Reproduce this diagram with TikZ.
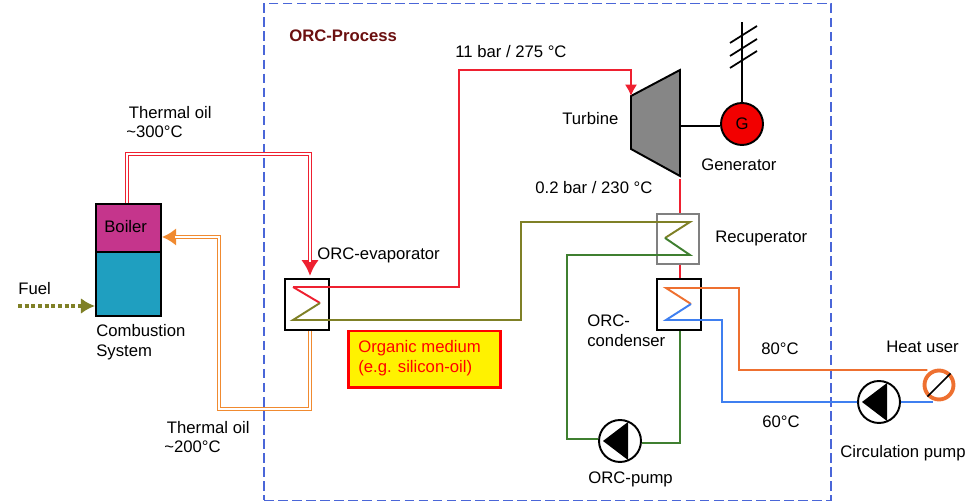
\documentclass[tikz,border=0pt]{standalone}
\usepackage{fontspec}
\setmainfont{Liberation Sans}
\usetikzlibrary{arrows.meta}
\definecolor{oilred}{HTML}{EE2030}
\definecolor{oilorange}{HTML}{F08A30}
\definecolor{hotorange}{HTML}{EE7030}
\definecolor{coldblue}{HTML}{3F7FF0}
\definecolor{olivemed}{HTML}{7F8026}
\definecolor{greenmed}{HTML}{3F7F30}
\definecolor{boxblue}{HTML}{4A66D8}
\definecolor{boilermag}{HTML}{C5358C}
\definecolor{combteal}{HTML}{1F9FC0}
\definecolor{darkred}{HTML}{6B1010}
\begin{document}
\begin{tikzpicture}[x=0.02cm,y=-0.02cm,
    label/.style={anchor=west,inner sep=0pt,align=left,font=\fontsize{9.5}{11.3}\selectfont},
    hxbox/.style={draw,line width=1pt,minimum width=0.88cm,minimum height=1.02cm,inner sep=0pt},
    pumpbox/.style={circle,draw,line width=1.1pt,minimum size=0.84cm,inner sep=0pt},
    redpipe/.style={oilred,line width=1.1pt},
    mediumpipe/.style={line width=1.1pt},
    oilpipe/.style={line width=2.3pt,line join=miter},
    oilcore/.style={white,line width=0.75pt,line join=miter}]
    \useasboundingbox (0,0) rectangle (968,502);
    % Process border
    \node[draw=boxblue,dash pattern=on 5.5pt off 2.5pt,line width=0.8pt,minimum width=11.34cm,minimum height=9.94cm,inner sep=0pt] (process) at (547.5,252) {};
    % Boiler and burner
    \node[draw,line width=1.1pt,fill=combteal,minimum width=1.3cm,minimum height=1.28cm,inner sep=0pt] (comb) at (128.5,284) {};
    \node[draw,line width=1.1pt,fill=boilermag,minimum width=1.3cm,minimum height=0.96cm,inner sep=0pt] (boiler) at (128.5,228) {};
    % Heat exchangers
    \node[hxbox] (evap) at (307,304.5) {};
    \node[hxbox,draw=gray,line width=0.8pt,minimum width=0.84cm,minimum height=1cm] (recup) at (678,239) {};
    \node[hxbox] (cond) at (679,304.5) {};
    \coordinate (evaphot) at (293,287);
    \coordinate (evapmid) at (320,303);
    \coordinate (evapcold) at (293,320);
    \coordinate (recuptop) at (690,222);
    \coordinate (recupmid) at (665,238);
    \coordinate (recupbot) at (690,255);
    \coordinate (condhot) at (666,288);
    \coordinate (condmid) at (691,304);
    \coordinate (condcold) at (666,320);
    % Turbine and generator
    \coordinate (tin) at (631,96);
    \coordinate (ttop) at (680,70);
    \coordinate (tout) at (680,176);
    \coordinate (tlow) at (631,149);
    \coordinate (tshaft) at (680,126);
    \draw[fill=gray!95,line width=1.1pt] (tin) -- (ttop) -- (tout) -- (tlow) -- cycle;
    \node[pumpbox,fill=red!95!black] (gen) at (742,124) {\fontsize{9.5}{11}\selectfont G};
    \coordinate (gridend) at (gen |- 0,22);
    \draw[line width=1.1pt] (tshaft) -- (gen.west |- tshaft);
    \draw[line width=1.1pt] (gen) -- (gridend);
    \foreach \y in {43,56,68}{
        \draw[line width=1pt] (730,\y) -- (757,\y-17);
    }
    % Pumps
    \node[pumpbox] (orcpump) at (620,441) {};
    \node[pumpbox] (circpump) at (879,402) {};
    \foreach \p in {orcpump,circpump}{
        \fill[shift={(\p)}] (-17,0) -- (8,-19) -- (8,19) -- cycle;
    }
    % Heat user
    \node[circle,draw=hotorange,line width=2.2pt,minimum size=0.58cm,inner sep=0pt] (user) at (939,385) {};
    \draw[line width=1pt] (user.south west) -- (user.north east);
    % Thermal oil
    \draw[oilpipe,oilred,-{Latex[length=9pt,width=10pt]}] (boiler.north -| 127,0) |- (310,154) -- (310,276);
    \draw[oilcore] (boiler.north -| 127,0) |- (310,154) -- (310,262);
    \draw[oilpipe,oilorange,-{Latex[length=8pt,width=10pt]}] (evap.south -| 310,0) |- (219,409) |- (boiler.east |- 0,237);
    \draw[oilcore] (evap.south -| 310,0) |- (219,409) |- (175,237);
    % Fuel
    \draw[olivemed,line width=1.8pt,dash pattern=on 2.2pt off 1.6pt,-{Latex[length=8pt,width=9pt]}] (18,306) -- (comb.west |- 0,306);
    % Organic medium
    \draw[redpipe] (evaphot) -- (evapmid);
    \draw[redpipe,-{Latex[length=6.5pt,width=7pt]}] (evaphot) -| (459,70) -| (tin);
    \draw[redpipe] (tout |- 0,179) -- (recup.north -| tout);
    \draw[redpipe] (recup.south -| tout) -- (cond.north -| tout);
    \draw[olivemed,mediumpipe] (evapmid) -- (evapcold) -| (521,222) -- (recuptop) -- (recupmid);
    \draw[greenmed,mediumpipe] (recupmid) -- (recupbot) -| (567,439) -- (orcpump.west |- 0,439);
    \draw[greenmed,mediumpipe] (orcpump.east |- 0,443) -| (cond.south -| 680,0);
    % Heating water
    \draw[hotorange,mediumpipe] (condmid) -- (condhot) -- (739,288) |- (user.north west |- 0,370);
    \draw[coldblue,mediumpipe] (condmid) -- (condcold) -- (722,320) |- (circpump.west);
    \draw[coldblue,mediumpipe] (circpump.east) -- (933,402);
    % Labels
    \node[draw=red,line width=1.7pt,fill=yellow,minimum width=3.06cm,minimum height=1.14cm,inner sep=0pt] (medium) at (424.5,359.5) {};
    \node[label,text=red] (mediumtxt) at (358,358.5) {Organic medium\\(e.g. silicon-oil)};
    \node[label,font=\fontsize{9.5}{11.3}\selectfont\bfseries,text=darkred] (orctxt) at (289,36) {ORC-Process};
    \node[label] (hptxt) at (455,52) {11 bar / 275 °C};
    \node[label] (oilhot) at (126,122) {\hspace{1.5pt}Thermal oil\\\textasciitilde300°C};
    \node[label] (boilertxt) at (104,227) {Boiler};
    \node[label] (fueltxt) at (18,289) {Fuel};
    \node[label] (combtxt) at (96,342) {Combustion\\System};
    \node[label] (evaptxt) at (317,255) {ORC-evaporator};
    \node[label] (oilcold) at (164,437) {\hspace{1.5pt}Thermal oil\\\textasciitilde200°C};
    \node[label] (turbtxt) at (562,119) {Turbine};
    \node[label] (gentxt) at (701,165) {Generator};
    \node[label] (lptxt) at (535,188) {0.2 bar / 230 °C};
    \node[label] (recuptxt) at (715,238) {Recuperator};
    \node[label] (condtxt) at (587,331) {ORC-\\condenser};
    \node[label] (hottxt) at (761,349) {80°C};
    \node[label] (coldtxt) at (762,422) {60°C};
    \node[label] (usertxt) at (886,347) {Heat user};
    \node[label] (circtxt) at (840,453) {Circulation pump};
    \node[label] (orctxtb) at (588,479) {ORC-pump};
\end{tikzpicture}
\end{document}
